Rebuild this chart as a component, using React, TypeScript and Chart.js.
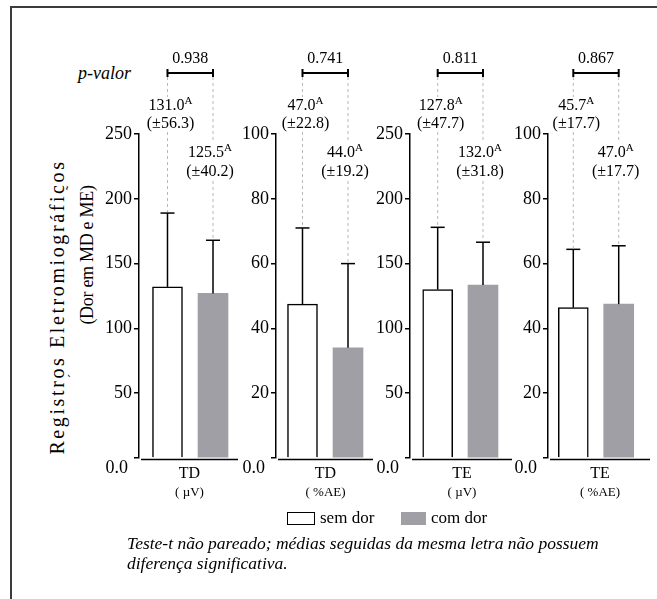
import React, { useEffect, useRef } from 'react';
import { Chart, registerables } from 'chart.js';

Chart.register(...registerables);

// ---------- data ----------
const groups = ['TD', 'TD', 'TE', 'TE'];
const units = ['( µV)', '( %AE)', '( µV)', '( %AE)'];
const yMax = [250, 100, 250, 100];
const yStep = [50, 20, 50, 20];
const seriesNames = ['sem dor', 'com dor'];
// bar heights and error bars as drawn in the figure
const semDorMeans = [132, 47.5, 130, 46.4];
const comDorMeans = [127, 34, 133.5, 47.5];
const semDorSd = [57, 23.5, 48, 18];
const comDorSd = [41, 26, 33, 18];
// printed annotations
const semDorMeanLabels = ['131.0', '47.0', '127.8', '45.7'];
const comDorMeanLabels = ['125.5', '44.0', '132.0', '47.0'];
const semDorSdLabels = ['56.3', '22.8', '47.7', '17.7'];
const comDorSdLabels = ['40.2', '19.2', '31.8', '17.7'];
const semDorLetters = ['A', 'A', 'A', 'A'];
const comDorLetters = ['A', 'A', 'A', 'A'];
const pValues = ['0.938', '0.741', '0.811', '0.867'];

// ---------- layout ----------
const FONT = 'Liberation Serif';
const GRAY = '#a09fa5';
const CANVAS_TOP = 40;
const CANVAS_H = 470;
const YAXIS_W = 50;
const PANELS = [
  { axisX: 139, xEnd: 238, xMin: -0.626, xMax: 1.549 },
  { axisX: 276, xEnd: 373, xMin: -0.582, xMax: 1.549 },
  { axisX: 410, xEnd: 512, xMin: -0.611, xMax: 1.64 },
  { axisX: 548, xEnd: 650, xMin: -0.557, xMax: 1.689 },
];

function Panel({ i }: { i: number }) {
  const ref = useRef<HTMLCanvasElement>(null);
  const p = PANELS[i];
  const left = p.axisX - YAXIS_W;
  const w = p.xEnd - left;

  useEffect(() => {
    const canvas = ref.current;
    if (!canvas) return;

    const anno = {
      id: 'anno' + i,
      afterDraw(chart: any) {
        const ctx: CanvasRenderingContext2D = chart.ctx;
        const { top, bottom, left: L, right: R } = chart.chartArea;
        const xs = chart.scales.x;
        const ys = chart.scales.y;
        const means = [semDorMeans[i], comDorMeans[i]];
        const sds = [semDorSd[i], comDorSd[i]];
        const cx = [xs.getPixelForValue(0), xs.getPixelForValue(1)];
        const mTop = means.map((m) => ys.getPixelForValue(m));
        const eTop = means.map((m, k) => ys.getPixelForValue(m + sds[k]));

        const line = (x1: number, y1: number, x2: number, y2: number) => {
          ctx.beginPath();
          ctx.moveTo(x1, y1);
          ctx.lineTo(x2, y2);
          ctx.stroke();
        };
        const text = (s: string, x: number, y: number, size: number, align: CanvasTextAlign = 'center') => {
          ctx.font = `${size}px "${FONT}"`;
          ctx.textAlign = align;
          ctx.textBaseline = 'middle';
          ctx.fillStyle = '#000';
          ctx.fillText(s, x, y);
        };
        const supLabel = (s: string, sup: string, x: number, y: number) => {
          ctx.font = `16px "${FONT}"`;
          const w1 = ctx.measureText(s).width;
          ctx.font = `11px "${FONT}"`;
          const w2 = ctx.measureText(sup).width;
          const x0 = x - (w1 + w2) / 2;
          text(s, x0, y, 16, 'left');
          text(sup, x0 + w1, y - 5, 11, 'left');
        };

        ctx.save();
        ctx.strokeStyle = '#000';
        ctx.lineWidth = 1.5;
        line(L + 2, bottom + 1.5, R, bottom + 1.5);

        for (let k = 0; k < 2; k++) {
          line(cx[k], mTop[k], cx[k], eTop[k]);
          line(cx[k] - 7, eTop[k], cx[k] + 7, eTop[k]);
        }

        const bY = top - 61;
        ctx.setLineDash([3, 3]);
        ctx.strokeStyle = '#b8b8b8';
        ctx.lineWidth = 1;
        line(cx[0], bY + 4, cx[0], top - 37);
        line(cx[0], top - 2, cx[0], eTop[0] - 1);
        line(cx[1], bY + 4, cx[1], top + 9);
        line(cx[1], top + 47, cx[1], eTop[1] - 1);
        ctx.setLineDash([]);

        ctx.strokeStyle = '#000';
        ctx.lineWidth = 2;
        line(cx[0], bY, cx[1], bY);
        line(cx[0], bY - 4, cx[0], bY + 4);
        line(cx[1], bY - 4, cx[1], bY + 4);
        text(pValues[i], (cx[0] + cx[1]) / 2, top - 75, 16);

        supLabel(semDorMeanLabels[i], semDorLetters[i], cx[0] + 3, top - 28);
        text('(±' + semDorSdLabels[i] + ')', cx[0] + 3, top - 10, 16);
        supLabel(comDorMeanLabels[i], comDorLetters[i], cx[1] - 3, top + 19);
        text('(±' + comDorSdLabels[i] + ')', cx[1] - 3, top + 38, 16);

        text('0.0', L - 11, bottom + 10, 18, 'right');
        const mid = (L + 2 + R) / 2;
        text(groups[i], mid, bottom + 16, 16);
        text(units[i], mid, bottom + 35, 13);
        ctx.restore();
      },
    };

    const chart = new Chart(canvas, {
      type: 'bar',
      data: {
        datasets: [
          {
            label: seriesNames.join(' / '),
            data: [
              { x: 0, y: semDorMeans[i] },
              { x: 1, y: comDorMeans[i] },
            ],
            backgroundColor: ['#ffffff', GRAY],
            borderColor: ['#000000', GRAY],
            borderWidth: [1.5, 0] as any,
            barThickness: 30,
            borderSkipped: 'start',
          } as any,
        ],
      },
      options: {
        responsive: false,
        animation: false,
        events: [],
        layout: { padding: { top: 94, bottom: 52, left: 0, right: 0 } },
        plugins: { legend: { display: false }, tooltip: { enabled: false } },
        scales: {
          x: { type: 'linear', min: p.xMin, max: p.xMax, offset: false, display: false },
          y: {
            min: 0,
            max: yMax[i],
            afterFit: (s: any) => {
              s.width = YAXIS_W;
            },
            ticks: {
              stepSize: yStep[i],
              color: '#000',
              padding: 2,
              font: { family: `"${FONT}"`, size: 18 },
              callback: (v: any) => (v === 0 ? '' : String(v)),
            },
            grid: {
              drawOnChartArea: false,
              drawTicks: true,
              tickLength: 5,
              color: '#000',
              lineWidth: 1.5,
            },
            border: { display: true, color: '#000', width: 1.5 },
          },
        },
      } as any,
      plugins: [anno],
    });
    return () => chart.destroy();
  }, [i]);

  return (
    <canvas
      ref={ref}
      width={w}
      height={CANVAS_H}
      style={{ position: 'absolute', left, top: CANVAS_TOP, width: w, height: CANVAS_H }}
    />
  );
}

export default function App() {
  return (
    <div
      style={{
        position: 'absolute',
        left: 0,
        top: 0,
        width: 657,
        height: 599,
        overflow: 'hidden',
        background: '#fff',
        fontFamily: FONT,
        color: '#000',
      }}
    >
      <div
        style={{
          position: 'absolute',
          left: 10,
          top: 6,
          width: 700,
          height: 700,
          borderTop: '2px solid #3c3c3c',
          borderLeft: '2px solid #3c3c3c',
        }}
      />
      <div
        style={{
          position: 'absolute',
          left: 57 - 170,
          top: 307 - 13,
          width: 340,
          height: 26,
          lineHeight: '26px',
          textAlign: 'center',
          fontSize: 20,
          letterSpacing: 2.6,
          transform: 'rotate(-90deg)',
          whiteSpace: 'nowrap',
        }}
      >
        Registros Eletromiográficos
      </div>
      <div
        style={{
          position: 'absolute',
          left: 87 - 100,
          top: 255 - 11,
          width: 200,
          height: 22,
          lineHeight: '22px',
          textAlign: 'center',
          fontSize: 18,
          letterSpacing: -0.3,
          transform: 'rotate(-90deg)',
          whiteSpace: 'nowrap',
        }}
      >
        (Dor em MD e ME)
      </div>
      <div style={{ position: 'absolute', left: 70, top: 180, fontSize: 14, transform: 'rotate(-90deg)' }}>˜</div>
      <div style={{ position: 'absolute', left: 72, top: 368, fontSize: 14, transform: 'rotate(-90deg)' }}>ˊ</div>

      <div
        style={{
          position: 'absolute',
          left: 78,
          top: 62,
          fontSize: 18,
          fontStyle: 'italic',
          lineHeight: '22px',
          whiteSpace: 'nowrap',
        }}
      >
        p-valor
      </div>

      {PANELS.map((_, i) => (
        <Panel key={i} i={i} />
      ))}

      <div
        style={{
          position: 'absolute',
          left: 287,
          top: 512,
          width: 26,
          height: 11,
          border: '1.5px solid #000',
          background: '#fff',
        }}
      />
      <div style={{ position: 'absolute', left: 320, top: 507, fontSize: 17, lineHeight: '22px', whiteSpace: 'nowrap' }}>
        {seriesNames[0]}
      </div>
      <div style={{ position: 'absolute', left: 401, top: 512, width: 25, height: 13, background: GRAY }} />
      <div style={{ position: 'absolute', left: 431, top: 507, fontSize: 17, lineHeight: '22px', whiteSpace: 'nowrap' }}>
        {seriesNames[1]}
      </div>

      <div
        style={{
          position: 'absolute',
          left: 127,
          top: 533,
          fontSize: 17.5,
          fontStyle: 'italic',
          lineHeight: '20px',
          whiteSpace: 'nowrap',
        }}
      >
        Teste-t não pareado; médias seguidas da mesma letra não possuem
        <br />
        diferença significativa.
      </div>
    </div>
  );
}
